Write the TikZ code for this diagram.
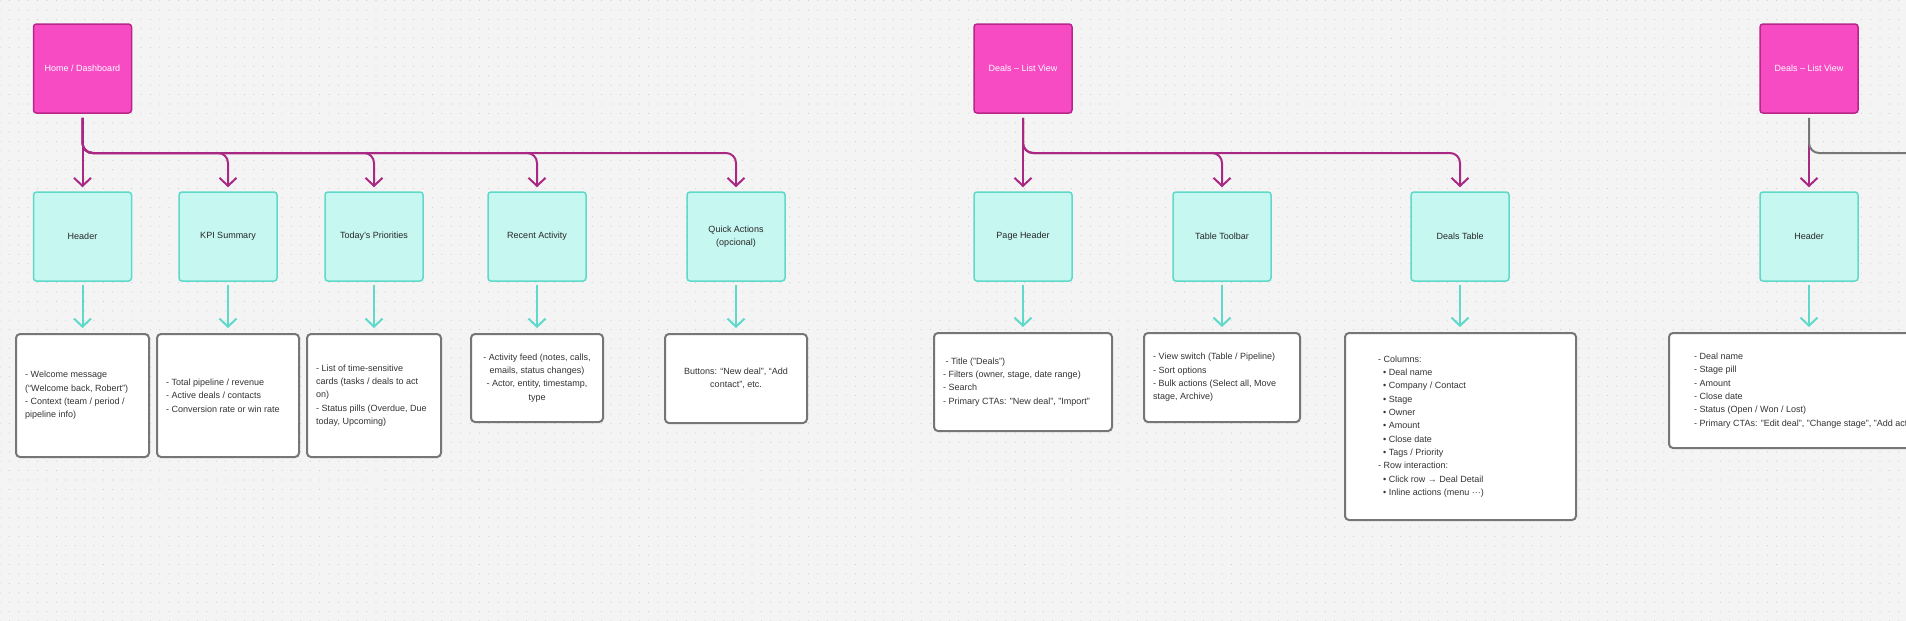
\documentclass[tikz,border=0pt]{standalone}
\usepackage{fontspec}
\setmainfont{Liberation Sans}
\usetikzlibrary{arrows.meta,patterns.meta}
\definecolor{bg}{HTML}{F4F4F4}
\definecolor{dotc}{HTML}{CFCFCF}
\definecolor{pinkfill}{HTML}{F74BC3}
\definecolor{pinkborder}{HTML}{B8268A}
\definecolor{magline}{HTML}{A82883}
\definecolor{tealfill}{HTML}{C6F7F1}
\definecolor{tealborder}{HTML}{5FD9C9}
\definecolor{tealtext}{HTML}{262626}
\definecolor{notegray}{HTML}{767676}
\definecolor{notetext}{HTML}{333333}
\definecolor{grayline}{HTML}{767676}
\tikzdeclarepattern{
  name=griddots,
  type=uncolored,
  bounding box={(-4.7pt,-4.7pt) and (4.7pt,4.7pt)},
  tile size={(9.4pt,9.4pt)},
  code={\fill (0pt,0pt) circle (0.6pt);}
}
\begin{document}
\begin{tikzpicture}[x=1pt,y=-1pt,
  font=\fontsize{9}{13.3}\selectfont,
  pinkbox/.style={draw=pinkborder, fill=pinkfill, line width=1.5pt, rounded corners=3pt,
    minimum width=98pt, minimum height=89pt, text=white, align=center, inner sep=0pt},
  tealbox/.style={draw=tealborder, fill=tealfill, line width=1.5pt, rounded corners=3pt,
    minimum width=98pt, minimum height=89pt, text=tealtext, align=center, inner sep=0pt},
  notebox/.style={draw=notegray, fill=white, line width=2pt, rounded corners=4pt,
    text=notetext, align=center, inner sep=0pt},
  notetxt/.style={text=notetext, align=left, inner sep=0pt, anchor=west},
  magarrow/.style={draw=magline, line width=2pt, rounded corners=10pt,
    -{Straight Barb[length=8pt,width=17pt]}, shorten <=4pt, shorten >=4pt},
  tealarrow/.style={draw=tealborder, line width=2pt,
    -{Straight Barb[length=8pt,width=17pt]}, shorten <=3pt, shorten >=5pt},
  grayconn/.style={draw=grayline, line width=2pt, rounded corners=10pt, shorten <=4pt}
]
\useasboundingbox (0,0) rectangle (1906,621);
\clip (0,0) rectangle (1906,621);
\fill[bg] (0,0) rectangle (1906,621);
\fill[pattern=griddots, pattern color=dotc] (0,0) rectangle (1906,621);

% ---------- Home / Dashboard ----------
\node[pinkbox] (home) at (82.5,68.5) {Home / Dashboard};
\node[tealbox] (hdr1) at (82.5,236.5) {Header};
\node[tealbox] (kpi) at (228,236.5) {KPI Summary};
\node[tealbox] (prio) at (374,236.5) {Today’s Priorities};
\node[tealbox] (recent) at (537,236.5) {Recent Activity};
\node[tealbox] (quick) at (736,236.5) {Quick Actions\\(opcional)};

\coordinate (busA) at (0,153);
\draw[magarrow] (home.south) -- (hdr1.north);
\draw[magarrow] (home.south) -- (home.south |- busA) -| (kpi.north);
\draw[magarrow] (home.south) -- (home.south |- busA) -| (prio.north);
\draw[magarrow] (home.south) -- (home.south |- busA) -| (recent.north);
\draw[magarrow] (home.south) -- (home.south |- busA) -| (quick.north);

\node[notebox, minimum width=133pt, minimum height=123pt] (n1) at (82.5,395.5) {};
\node[notetxt] (n1t) at ([xshift=10pt]n1.west) {- Welcome message\\(“Welcome back, Robert”)\\- Context (team / period /\\pipeline info)};
\node[notebox, minimum width=142pt, minimum height=123pt] (n2) at (228,395.5) {};
\node[notetxt] (n2t) at ([xshift=10pt]n2.west) {- Total pipeline / revenue\\- Active deals / contacts\\- Conversion rate or win rate};
\node[notebox, minimum width=134pt, minimum height=123pt] (n3) at (374,395.5) {};
\node[notetxt] (n3t) at ([xshift=10pt]n3.west) {- List of time-sensitive\\cards (tasks / deals to act\\on)\\- Status pills (Overdue, Due\\today, Upcoming)};
\node[notebox, minimum width=132pt, minimum height=88pt] (n4) at (537,378) {- Activity feed (notes, calls,\\emails, status changes)\\- Actor, entity, timestamp,\\type};
\node[notebox, minimum width=142pt, minimum height=89pt] (n5) at (736,378.5) {Buttons: “New deal”, “Add\\contact”, etc.};

\draw[tealarrow] (hdr1.south) -- (n1.north);
\draw[tealarrow] (kpi.south) -- (kpi.south |- n2.north);
\draw[tealarrow] (prio.south) -- (prio.south |- n3.north);
\draw[tealarrow] (recent.south) -- (recent.south |- n4.north);
\draw[tealarrow] (quick.south) -- (quick.south |- n5.north);

% ---------- Deals - List View ----------
\node[pinkbox] (deals) at (1023,68.5) {Deals – List View};
\node[tealbox] (pghdr) at (1023,236.5) {Page Header};
\node[tealbox] (toolbar) at (1222,236.5) {Table Toolbar};
\node[tealbox] (table) at (1460,236.5) {Deals Table};

\draw[magarrow] (deals.south) -- (pghdr.north);
\draw[magarrow] (deals.south) -- (deals.south |- busA) -| (toolbar.north);
\draw[magarrow] (deals.south) -- (deals.south |- busA) -| (table.north);

\node[notebox, minimum width=178pt, minimum height=98pt] (n6) at (1023,382) {};
\node[notetxt] (n6t) at ([xshift=10pt]n6.west) {\hspace{2.3pt}- Title ("Deals")\\- Filters (owner, stage, date range)\\- Search\\- Primary CTAs: "New deal", "Import"};
\node[notebox, minimum width=156pt, minimum height=89pt] (n7) at (1222,377.5) {};
\node[notetxt] (n7t) at ([xshift=10pt]n7.west) {- View switch (Table / Pipeline)\\- Sort options\\- Bulk actions (Select all, Move\\stage, Archive)};
\node[notebox, minimum width=231pt, minimum height=187pt] (n8) at (1460.5,426.5) {};
\node[notetxt] (n8t) at ([xshift=34pt]n8.west) {- Columns:\\\hspace*{5pt}• Deal name\\\hspace*{5pt}• Company / Contact\\\hspace*{5pt}• Stage\\\hspace*{5pt}• Owner\\\hspace*{5pt}• Amount\\\hspace*{5pt}• Close date\\\hspace*{5pt}• Tags / Priority\\- Row interaction:\\\hspace*{5pt}• Click row → Deal Detail\\\hspace*{5pt}• Inline actions (menu ···)};

\draw[tealarrow] (pghdr.south) -- (n6.north);
\draw[tealarrow] (toolbar.south) -- (n7.north);
\draw[tealarrow] (table.south) -- (table.south |- n8.north);

% ---------- Deals - List View (right) ----------
\node[pinkbox] (deals2) at (1809,68.5) {Deals – List View};
\node[tealbox] (hdr2) at (1809,236.5) {Header};
\coordinate (edgeR) at (1930,153);
\draw[magarrow, rounded corners=0pt] (deals2.south) -- (hdr2.north);
\draw[grayconn] (deals2.south) |- (edgeR);

\node[notebox, minimum width=300pt, minimum height=115pt] (n9) at (1819,390.5) {};
\node[notetxt] (n9t) at ([xshift=26pt]n9.west) {- Deal name\\- Stage pill\\- Amount\\- Close date\\- Status (Open / Won / Lost)\\- Primary CTAs: "Edit deal", "Change stage", "Add activity"};
\draw[tealarrow] (hdr2.south) -- (hdr2.south |- n9.north);
\end{tikzpicture}
\end{document}
